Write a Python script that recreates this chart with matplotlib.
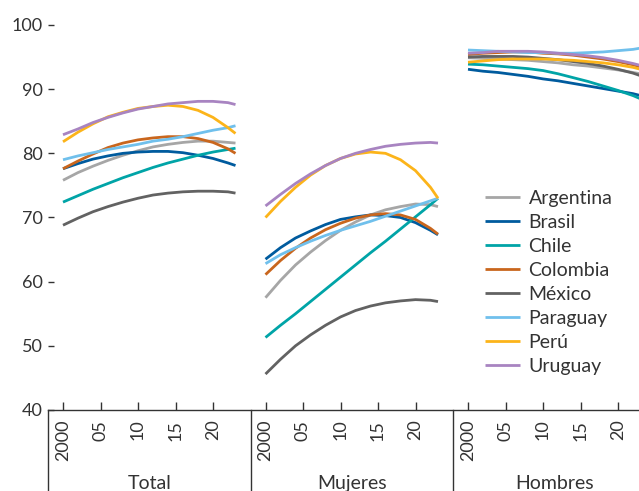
"""
Tasa por pais: Total / Mujeres / Hombres
"""

import matplotlib.pyplot as plt
import matplotlib.transforms as mtransforms

plt.rcParams["font.family"] = ["Lato", "DejaVu Sans"]

##################################################
# Data
years = [2000, 2002, 2004, 2006, 2008, 2010, 2012, 2014, 2016, 2018, 2020, 2022, 2023]
countries = ["Argentina", "Brasil", "Chile", "Colombia",
             "México", "Paraguay", "Perú", "Uruguay"]
colors = ["#a6a6a6", "#005b9e", "#00a4a7", "#c9661d",
          "#626262", "#70c0ec", "#fcb41a", "#a884c1"]
panels = ["Total", "Mujeres", "Hombres"]
tick_years = [2000, 2005, 2010, 2015, 2020]
tick_labels = ["2000", "05", "10", "15", "20"]

total = {
    "Argentina": [75.8, 77.0, 78.0, 78.9, 79.7, 80.4, 81.0, 81.4, 81.7, 81.9, 81.9, 81.7, 81.6],
    "Brasil":    [77.6, 78.4, 79.1, 79.6, 80.0, 80.2, 80.3, 80.3, 80.1, 79.7, 79.2, 78.5, 78.1],
    "Chile":     [72.4, 73.4, 74.4, 75.3, 76.2, 77.0, 77.8, 78.5, 79.1, 79.7, 80.2, 80.6, 80.8],
    "Colombia":  [77.6, 78.8, 79.9, 80.9, 81.6, 82.1, 82.4, 82.6, 82.6, 82.3, 81.7, 80.7, 80.0],
    "México":    [68.8, 69.9, 70.9, 71.7, 72.4, 73.0, 73.5, 73.8, 74.0, 74.1, 74.1, 74.0, 73.8],
    "Paraguay":  [79.0, 79.6, 80.1, 80.6, 81.0, 81.4, 81.9, 82.2, 82.6, 83.1, 83.6, 84.0, 84.3],
    "Perú":      [81.8, 83.3, 84.6, 85.7, 86.4, 87.0, 87.3, 87.5, 87.3, 86.7, 85.6, 84.0, 83.1],
    "Uruguay":   [82.9, 83.8, 84.8, 85.6, 86.3, 86.9, 87.3, 87.7, 87.9, 88.1, 88.1, 87.9, 87.6],
}
mujeres = {
    "Argentina": [57.5, 60.2, 62.6, 64.6, 66.4, 68.0, 69.3, 70.4, 71.2, 71.7, 72.1, 72.0, 71.7],
    "Brasil":    [63.5, 65.3, 66.8, 67.9, 68.9, 69.7, 70.1, 70.4, 70.3, 70.0, 69.2, 68.0, 67.3],
    "Chile":     [51.3, 53.2, 55.0, 56.9, 58.8, 60.7, 62.6, 64.5, 66.3, 68.2, 70.1, 72.0, 73.0],
    "Colombia":  [61.1, 63.3, 65.2, 66.8, 68.1, 69.1, 69.9, 70.4, 70.6, 70.4, 69.7, 68.3, 67.4],
    "México":    [45.6, 47.9, 50.0, 51.7, 53.2, 54.5, 55.5, 56.2, 56.7, 57.0, 57.2, 57.1, 56.9],
    "Paraguay":  [62.8, 64.2, 65.3, 66.3, 67.2, 68.0, 68.7, 69.4, 70.2, 71.0, 71.8, 72.6, 73.0],
    "Perú":      [70.0, 72.5, 74.7, 76.6, 78.1, 79.2, 79.9, 80.2, 80.0, 79.0, 77.3, 74.7, 73.0],
    "Uruguay":   [71.8, 73.6, 75.3, 76.8, 78.1, 79.2, 80.0, 80.6, 81.1, 81.4, 81.6, 81.7, 81.6],
}
hombres = {
    "Argentina": [94.9, 94.8, 94.7, 94.6, 94.5, 94.3, 94.1, 93.8, 93.6, 93.3, 93.0, 92.6, 92.4],
    "Brasil":    [93.1, 92.8, 92.6, 92.3, 92.0, 91.6, 91.3, 90.9, 90.5, 90.1, 89.7, 89.3, 89.0],
    "Chile":     [93.9, 93.8, 93.6, 93.4, 93.2, 92.9, 92.4, 91.8, 91.2, 90.5, 89.8, 89.0, 88.5],
    "Colombia":  [95.4, 95.6, 95.7, 95.8, 95.8, 95.6, 95.5, 95.3, 95.0, 94.7, 94.3, 93.8, 93.5],
    "México":    [95.0, 95.1, 95.1, 95.1, 95.0, 94.8, 94.6, 94.3, 94.0, 93.6, 93.1, 92.5, 92.1],
    "Paraguay":  [96.1, 96.0, 95.9, 95.8, 95.7, 95.7, 95.6, 95.6, 95.7, 95.8, 96.0, 96.2, 96.4],
    "Perú":      [94.2, 94.4, 94.6, 94.7, 94.7, 94.7, 94.6, 94.5, 94.3, 94.1, 93.8, 93.4, 93.1],
    "Uruguay":   [95.6, 95.7, 95.9, 95.9, 95.9, 95.8, 95.6, 95.4, 95.2, 94.9, 94.5, 94.0, 93.7],
}

##################################################
# Plot data
text_color = "#333333"
fig = plt.figure(figsize=(6.39, 4.91), dpi=100)
ax = fig.add_axes([48 / 639, 81 / 491, 591 / 639, 385 / 491])

span = 27  # width of one panel, in years
for i, data in enumerate([total, mujeres, hombres]):
    off = i * span
    for name, color in zip(countries, colors):
        x = [y - 2000 + off for y in years]
        ax.plot(x, data[name], color=color, lw=2,
                label=name if i == 0 else None, solid_capstyle="butt")

ax.set_xlim(-2, 76.8)
ax.set_ylim(40, 100)

for s in ["top", "right", "left"]:
    ax.spines[s].set_visible(False)
ax.spines["bottom"].set_color(text_color)
ax.spines["bottom"].set_linewidth(1)

ax.set_yticks([40, 50, 60, 70, 80, 90, 100])
ax.tick_params(axis="y", direction="in", length=4.5, width=1, pad=4,
               labelsize=13, colors=text_color)

xt, xl = [], []
for i in range(3):
    xt += [t - 2000 + i * span for t in tick_years]
    xl += tick_labels
ax.set_xticks(xt)
ax.set_xticklabels(xl, rotation=90)
ax.tick_params(axis="x", direction="in", length=5.5, width=1, pad=7,
               labelsize=13, colors=text_color)

# panel separators and group names below the axis
trans = mtransforms.blended_transform_factory(ax.transData, ax.transAxes)
for i, name in enumerate(panels):
    left = -2 + i * span
    ax.plot([left, left], [0, -0.25], transform=trans, color=text_color,
            lw=1, clip_on=False)
    ax.text(left + span / 2, -0.206, name, transform=trans, ha="center",
            va="baseline", fontsize=14, color=text_color)

ax.legend(loc="upper left", bbox_to_anchor=(0.739, 0.572), frameon=False,
          fontsize=14, labelcolor=text_color, handlelength=1.8,
          handletextpad=0.45, labelspacing=0.36, borderpad=0,
          borderaxespad=0)

fig.savefig("out.png", dpi=100)
